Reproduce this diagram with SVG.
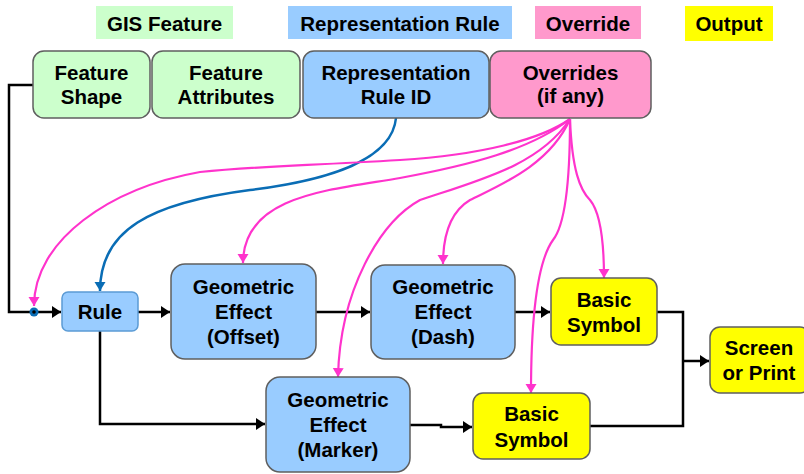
<svg xmlns="http://www.w3.org/2000/svg" width="804" height="474" viewBox="0 0 804 474">
<defs>
<style>
text{font-family:"Liberation Sans",Arial,sans-serif;font-weight:bold;font-size:20.5px;fill:#000;text-anchor:middle}
.n{stroke:#5f5f5f;stroke-width:1.5}
.g{fill:#ccffcc}.b{fill:#99ccff}.p{fill:#ff99cc}.y{fill:#ffff00}
.k{fill:none;stroke:#000;stroke-width:2.5}
.pk{fill:none;stroke:#ff33cc;stroke-width:2.2}
.bl{fill:none;stroke:#0a6db5;stroke-width:2.5}
</style>
<marker id="ak" markerUnits="userSpaceOnUse" markerWidth="10" markerHeight="12" refX="9" refY="6" orient="auto"><path d="M0,0 L9,6 L0,12 z" fill="#000"/></marker>
<marker id="ap" markerUnits="userSpaceOnUse" markerWidth="10" markerHeight="12" refX="9" refY="6" orient="auto"><path d="M0,0.5 L9,6 L0,11.5 z" fill="#ff33cc"/></marker>
<marker id="ab" markerUnits="userSpaceOnUse" markerWidth="10" markerHeight="12" refX="9" refY="6" orient="auto"><path d="M0,0.5 L9,6 L0,11.5 z" fill="#0a6db5"/></marker>
</defs>
<rect width="804" height="474" fill="#fff"/>

<g id="legend">
<rect x="96" y="6" width="137" height="33" class="g"/>
<text x="164.5" y="31">GIS Feature</text>
<rect x="288" y="6" width="224" height="33" class="b"/>
<text x="400" y="31">Representation Rule</text>
<rect x="535" y="6" width="106" height="33" class="p"/>
<text x="588" y="31">Override</text>
<rect x="685" y="6" width="88" height="35" class="y"/>
<text x="729" y="31">Output</text>
</g>

<g id="connectors">
<path class="k" d="M33,85 H9 V312 H61" marker-end="url(#ak)"/>
<path class="k" d="M138,312 H170" marker-end="url(#ak)"/>
<path class="k" d="M316,312 H370" marker-end="url(#ak)"/>
<path class="k" d="M515,312 H550" marker-end="url(#ak)"/>
<path class="k" d="M100,331 V424 H265" marker-end="url(#ak)"/>
<path class="k" d="M410,425 H441 V427 H472" marker-end="url(#ak)"/>
<path class="k" d="M657,312 H683 V426 H590"/>
<path class="k" d="M683,361 H709" marker-end="url(#ak)"/>
<path class="bl" d="M396,118 C392,160 330,180 250,190 C150,203 100,230 100,291" marker-end="url(#ab)"/>
<path class="pk" d="M570,119 C540,140 480,155 400,160 C300,166 260,166 200,172 C110,188 34,240 34,306" marker-end="url(#ap)"/>
<path class="pk" d="M570,119 C530,150 470,165 400,178 C330,190 243,195 243,263" marker-end="url(#ap)"/>
<path class="pk" d="M570,119 C540,165 480,180 420,200 C380,222 340,290 338,377" marker-end="url(#ap)"/>
<path class="pk" d="M570,119 C550,165 500,185 470,200 C450,212 443,235 443,264" marker-end="url(#ap)"/>
<path class="pk" d="M570,119 C570,180 565,225 553,240 C540,258 531,300 531,393" marker-end="url(#ap)"/>
<path class="pk" d="M570,119 C572,170 580,190 590,200 C600,212 604,240 604,278" marker-end="url(#ap)"/>
<circle cx="34" cy="312" r="4.5" fill="#0a6db5"/>
<circle cx="34" cy="312" r="1.8" fill="#000"/>
</g>

<g id="feature-shape">
<rect x="33" y="51" width="117" height="67" rx="11" class="n g"/>
<text x="91.5" y="80">Feature</text>
<text x="91.5" y="104">Shape</text>
</g>
<g id="feature-attributes">
<rect x="152" y="51" width="148" height="67" rx="11" class="n g"/>
<text x="226" y="80">Feature</text>
<text x="226" y="104">Attributes</text>
</g>
<g id="rep-rule-id">
<rect x="303" y="51" width="186" height="67" rx="11" class="n b"/>
<text x="396" y="80">Representation</text>
<text x="396" y="104">Rule ID</text>
</g>
<g id="overrides">
<rect x="490" y="51" width="161" height="67" rx="11" class="n p"/>
<text x="570.5" y="80">Overrides</text>
<text x="570.5" y="103">(if any)</text>
</g>

<g id="rule">
<rect x="62" y="292" width="76" height="39" rx="6" fill="#99ccff" stroke="#5b9bd5" stroke-width="1.5"/>
<text x="100" y="319">Rule</text>
</g>
<g id="ge-offset">
<rect x="171" y="264" width="145" height="95" rx="14" class="n b"/>
<text x="243.5" y="294">Geometric</text>
<text x="243.5" y="319">Effect</text>
<text x="243.5" y="344">(Offset)</text>
</g>
<g id="ge-dash">
<rect x="371" y="265" width="144" height="94" rx="14" class="n b"/>
<text x="443" y="294">Geometric</text>
<text x="443" y="319">Effect</text>
<text x="443" y="344">(Dash)</text>
</g>
<g id="basic-symbol-1">
<rect x="551" y="278" width="106" height="67" rx="10" class="n y"/>
<text x="604" y="307">Basic</text>
<text x="604" y="332">Symbol</text>
</g>
<g id="ge-marker">
<rect x="266" y="377" width="144" height="95" rx="14" class="n b"/>
<text x="338" y="407">Geometric</text>
<text x="338" y="432">Effect</text>
<text x="338" y="457">(Marker)</text>
</g>
<g id="basic-symbol-2">
<rect x="473" y="393" width="117" height="66" rx="10" class="n y"/>
<text x="531.5" y="421">Basic</text>
<text x="531.5" y="447">Symbol</text>
</g>
<g id="screen-or-print">
<rect x="710" y="327" width="100" height="66" rx="10" class="n y"/>
<text x="759" y="355">Screen</text>
<text x="759" y="380">or Print</text>
</g>
</svg>
